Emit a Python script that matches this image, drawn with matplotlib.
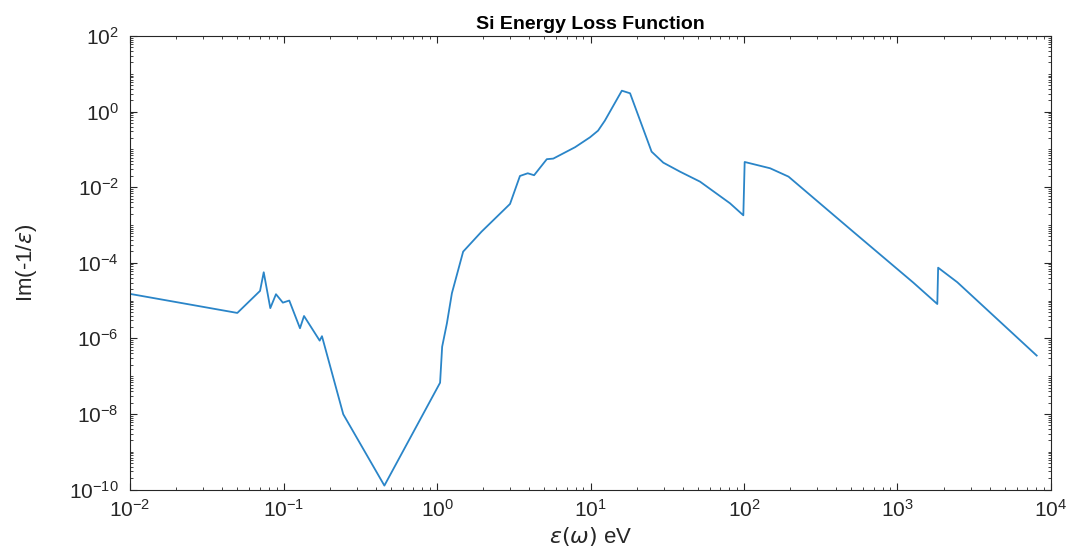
"""
Si energy loss function, Im(-1/eps) vs photon energy, on log-log axes
(MATLAB-style figure).
"""

import matplotlib
matplotlib.use("Agg")
import matplotlib.pyplot as plt
import numpy as np
from matplotlib.ticker import LogLocator, NullFormatter

plt.rcParams["font.family"] = ["Liberation Sans", "DejaVu Sans"]
plt.rcParams["mathtext.fontset"] = "dejavusans"

# energy (eV) and loss function values
energy_ev = [
    0.01, 0.05, 0.0703, 0.0743, 0.082, 0.0893, 0.099, 0.109, 0.128, 0.136,
    0.172, 0.178, 0.245, 0.454, 1.047, 1.08, 1.16, 1.25, 1.48, 1.95,
    2.99, 3.47, 3.9, 4.29, 5.19, 5.72, 7.93, 9.93, 11.2, 12.4,
    16.0, 18.1, 25.0, 29.8, 38.3, 51.7, 81.0, 99.0, 101.0, 148.0,
    195.0, 515.0, 1268.0, 1817.0, 1840.0, 2453.0, 8070.0,
]
loss_fn = [
    1.5e-5, 4.7e-6, 1.8e-5, 5.6e-5, 6.3e-6, 1.47e-5, 8.8e-6, 1.0e-5, 1.85e-6, 3.9e-6,
    8.7e-7, 1.14e-6, 9.8e-9, 1.27e-10, 6.7e-8, 6.0e-7, 2.5e-6, 1.56e-5, 1.97e-4, 6.65e-4,
    3.6e-3, 1.98e-2, 2.33e-2, 2.07e-2, 5.5e-2, 5.7e-2, 0.114, 0.209, 0.313, 0.575,
    3.57, 3.05, 0.087, 0.0445, 0.0257, 0.014, 3.75e-3, 1.8e-3, 4.64e-2, 3.16e-2,
    1.9e-2, 6.6e-4, 2.98e-5, 8.1e-6, 7.4e-5, 3.05e-5, 3.5e-7,
]

x_lim = (1e-2, 1e4)
y_lim = (1e-10, 1e2)
x_major = [10.0 ** k for k in range(-2, 5)]
y_major = [10.0 ** k for k in range(-10, 3, 2)]

AX_COLOR = "#262626"
LINE_COLOR = "#2A85C8"

fig = plt.figure(figsize=(10.72, 5.52), dpi=100)
ax = fig.add_axes([0.1213, 0.1132, 0.8591, 0.8216])

ax.plot(energy_ev, loss_fn, color=LINE_COLOR, linewidth=1.3)

ax.set_xscale("log")
ax.set_yscale("log")
ax.set_xlim(*x_lim)
ax.set_ylim(*y_lim)

ax.set_xticks(x_major)
ax.set_yticks(y_major)
ax.xaxis.set_minor_locator(LogLocator(base=10, subs=np.arange(2, 10), numticks=50))
ax.yaxis.set_minor_locator(LogLocator(base=10, subs=np.arange(1, 10), numticks=50))
ax.xaxis.set_minor_formatter(NullFormatter())
ax.yaxis.set_minor_formatter(NullFormatter())

ax.tick_params(which="both", direction="in", top=True, right=True,
               colors=AX_COLOR, labelsize=15)
ax.tick_params(axis="x", which="major", pad=7)
ax.tick_params(axis="y", which="major", pad=8)
ax.tick_params(which="major", length=5, width=0.8)
ax.tick_params(which="minor", length=2.5, width=0.6)
for sp in ax.spines.values():
    sp.set_color(AX_COLOR)
    sp.set_linewidth(0.8)

ax.set_title("Si Energy Loss Function", fontsize=14, fontweight="bold",
             color="black", pad=5)
ax.set_xlabel(r"$\epsilon(\omega)$ eV", fontsize=16, color=AX_COLOR, labelpad=3)
ax.set_ylabel(r"Im(-1/$\epsilon$)", fontsize=16, color=AX_COLOR, labelpad=22)

fig.savefig("out.png", dpi=100)
